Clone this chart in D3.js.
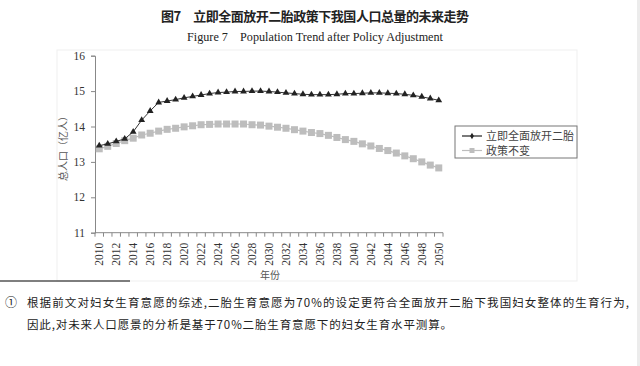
<!DOCTYPE html>
<html lang="zh">
<head>
<meta charset="utf-8">
<script src="https://d3js.org/d3.v7.min.js"></script>
<style>
  body { margin: 0; background: #fff; }
  svg { display: block; }
</style>
</head>
<body>
<script>
var width = 640, height = 366;

// data (亿人)
var years = d3.range(2010, 2051);
var openPolicy = [13.46, 13.51, 13.58, 13.65, 13.85, 14.18, 14.44, 14.68, 14.72, 14.76,
                  14.81, 14.85, 14.89, 14.93, 14.96, 14.97, 14.99, 14.99, 15.00, 15.00,
                  14.99, 14.97, 14.95, 14.93, 14.91, 14.90, 14.90, 14.90, 14.91, 14.93,
                  14.93, 14.94, 14.95, 14.95, 14.94, 14.93, 14.91, 14.88, 14.84, 14.79,
                  14.74];
var noChange = [13.37, 13.44, 13.52, 13.60, 13.67, 13.76, 13.81, 13.87, 13.92, 13.95,
                13.99, 14.02, 14.05, 14.06, 14.07, 14.07, 14.07, 14.07, 14.05, 14.04,
                14.01, 13.98, 13.95, 13.91, 13.87, 13.83, 13.80, 13.75, 13.69, 13.63,
                13.58, 13.51, 13.45, 13.38, 13.32, 13.25, 13.17, 13.09, 13.00, 12.91,
                12.83];
var yTicks = [11, 12, 13, 14, 15, 16];
var seriesNames = ["立即全面放开二胎", "政策不变"];

var cjk = "'Noto Sans CJK SC', 'Noto Sans', sans-serif";
var serif = "'Liberation Serif', 'DejaVu Serif', serif";

var svg = d3.select("body").append("svg")
    .attr("width", width)
    .attr("height", height);

// faint frame of the figure and page edge
svg.append("rect").attr("x", 57).attr("y", 50).attr("width", 520).attr("height", 231)
    .attr("fill", "none").attr("stroke", "#efefef");
svg.append("rect").attr("x", 637).attr("y", 0).attr("width", 3).attr("height", height)
    .attr("fill", "#ececec");

// titles
svg.append("text")
    .attr("x", 161).attr("y", 21)
    .attr("textLength", 308).attr("lengthAdjust", "spacing")
    .style("font-family", cjk).style("font-weight", "bold").style("font-size", "13px")
    .attr("fill", "#222")
    .text("图7　立即全面放开二胎政策下我国人口总量的未来走势");

svg.append("text")
    .attr("x", 187).attr("y", 41)
    .attr("textLength", 256).attr("lengthAdjust", "spacingAndGlyphs")
    .style("font-family", serif).style("font-size", "11.5px")
    .attr("fill", "#222")
    .text("Figure 7\u2003Population Trend after Policy Adjustment");

// scales
var x = d3.scaleBand().domain(years).range([95, 443]).padding(0);
var y = d3.scaleLinear().domain([11, 16]).range([232.7, 55.7]);
var cx = function(d, i) { return x(years[i]) + x.bandwidth() / 2; };

// y axis
var yAxis = svg.append("g")
    .attr("transform", "translate(95,0)")
    .call(d3.axisLeft(y).tickValues(yTicks).tickFormat(d3.format("d")).tickSize(4).tickPadding(6));
yAxis.select(".domain").attr("stroke", "#888");
yAxis.selectAll(".tick line").attr("stroke", "#888");
yAxis.selectAll(".tick text")
    .style("font-family", serif).style("font-size", "11.5px").attr("fill", "#333");

// x axis: line, ticks between categories, rotated labels every two years
svg.append("line")
    .attr("x1", 95).attr("x2", 443).attr("y1", y(11)).attr("y2", y(11))
    .attr("stroke", "#888");
svg.append("g").selectAll("line")
    .data(years.concat([2051]))
    .join("line")
    .attr("x1", function(d, i) { return 95 + i * x.bandwidth(); })
    .attr("x2", function(d, i) { return 95 + i * x.bandwidth(); })
    .attr("y1", y(11)).attr("y2", y(11) + 4)
    .attr("stroke", "#888");
svg.append("g").selectAll("text")
    .data(years.filter(function(d) { return d % 2 === 0; }))
    .join("text")
    .attr("transform", function(d) {
        return "translate(" + (x(d) + x.bandwidth() / 2 + 4) + "," + (y(11) + 10) + ") rotate(-90)";
    })
    .attr("text-anchor", "end")
    .style("font-family", serif).style("font-size", "11.5px")
    .attr("fill", "#333")
    .text(function(d) { return d; });

// axis titles
svg.append("text")
    .attr("transform", "translate(67,146) rotate(-90)")
    .attr("text-anchor", "middle")
    .style("font-family", cjk).style("font-size", "10px")
    .attr("fill", "#555")
    .text("总人口（亿人）");
svg.append("text")
    .attr("x", 270).attr("y", 279)
    .attr("text-anchor", "middle")
    .style("font-family", cjk).style("font-size", "10px")
    .attr("fill", "#555")
    .text("年份");

// series: policy unchanged (grey squares)
var line = d3.line().x(cx).y(function(d) { return y(d); });
svg.append("path").datum(noChange)
    .attr("d", line).attr("fill", "none")
    .attr("stroke", "#bdbdbd").attr("stroke-width", 1.2);
svg.append("g").selectAll("rect")
    .data(noChange)
    .join("rect")
    .attr("x", function(d, i) { return cx(d, i) - 3.5; })
    .attr("y", function(d) { return y(d) - 3.5; })
    .attr("width", 7).attr("height", 7)
    .attr("fill", "#bdbdbd");

// series: open second child now (black triangles)
svg.append("path").datum(openPolicy)
    .attr("d", line).attr("fill", "none")
    .attr("stroke", "#333").attr("stroke-width", 1);
var tri = d3.symbol().type(d3.symbolTriangle).size(20);
svg.append("g").selectAll("path")
    .data(openPolicy)
    .join("path")
    .attr("transform", function(d, i) { return "translate(" + cx(d, i) + "," + y(d) + ")"; })
    .attr("d", tri)
    .attr("fill", "#222");

// legend
var legend = svg.append("g");
legend.append("rect")
    .attr("x", 455).attr("y", 126).attr("width", 122).attr("height", 32)
    .attr("fill", "#fff").attr("stroke", "#777");
var legendColors = ["#222", "#bdbdbd"];
seriesNames.forEach(function(name, i) {
    var ly = 136 + i * 14.5;
    legend.append("line")
        .attr("x1", 462).attr("x2", 482).attr("y1", ly).attr("y2", ly)
        .attr("stroke", legendColors[i]).attr("stroke-width", 1.2);
    if (i === 0) {
        legend.append("path")
            .attr("transform", "translate(472," + ly + ")")
            .attr("d", d3.symbol().type(d3.symbolDiamond).size(12))
            .attr("fill", legendColors[i]);
    } else {
        legend.append("rect")
            .attr("x", 469.5).attr("y", ly - 2.5).attr("width", 5).attr("height", 5)
            .attr("fill", legendColors[i]);
    }
    legend.append("text")
        .attr("x", 486).attr("y", ly + 4)
        .style("font-family", cjk).style("font-size", "11px")
        .attr("fill", "#444")
        .text(name);
});

// footnote rule and text
svg.append("line")
    .attr("x1", 0).attr("x2", 130).attr("y1", 281).attr("y2", 281)
    .attr("stroke", "#555").attr("stroke-width", 1.5);
svg.append("text")
    .attr("x", 5).attr("y", 307)
    .style("font-family", cjk).style("font-size", "12px")
    .attr("fill", "#222")
    .text("①");
svg.append("text")
    .attr("x", 27).attr("y", 307)
    .attr("textLength", 602).attr("lengthAdjust", "spacing")
    .style("font-family", cjk).style("font-size", "11.5px")
    .attr("fill", "#222")
    .text("根据前文对妇女生育意愿的综述,二胎生育意愿为70%的设定更符合全面放开二胎下我国妇女整体的生育行为,");
svg.append("text")
    .attr("x", 27).attr("y", 329)
    .attr("textLength", 425).attr("lengthAdjust", "spacing")
    .style("font-family", cjk).style("font-size", "11.5px")
    .attr("fill", "#222")
    .text("因此,对未来人口愿景的分析是基于70%二胎生育意愿下的妇女生育水平测算。");
</script>
</body>
</html>
